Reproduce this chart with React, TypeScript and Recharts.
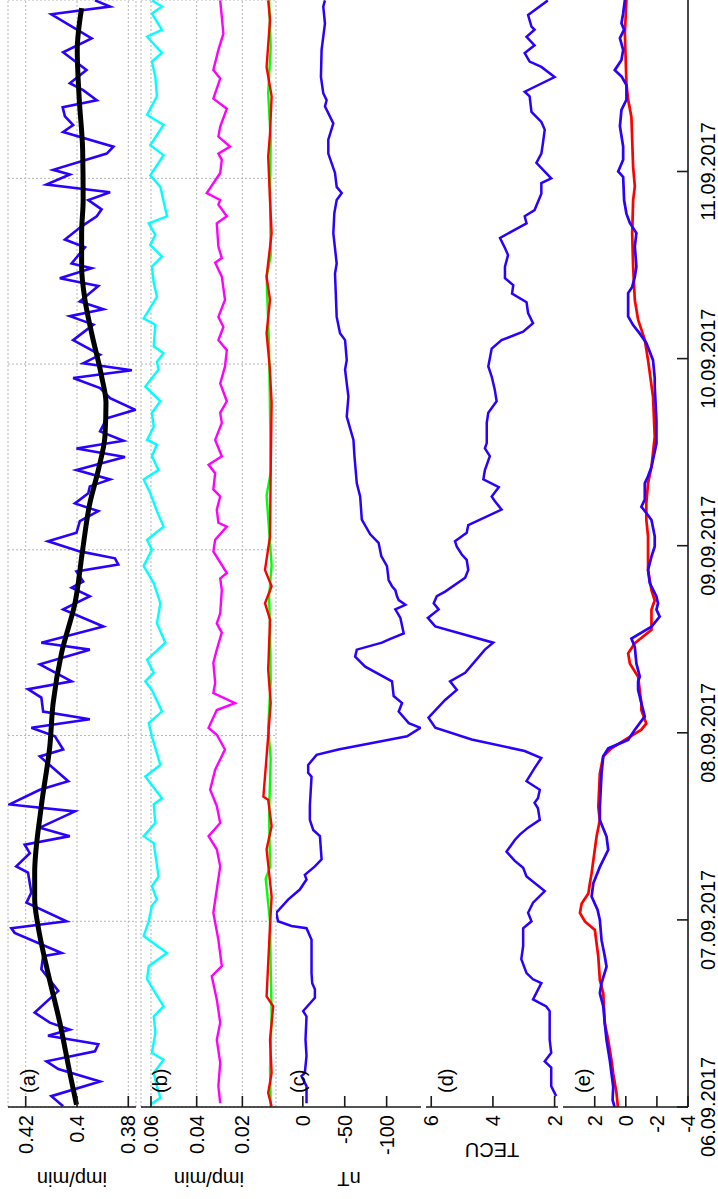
import React from 'react'
import { LineChart, Line, XAxis, YAxis, CartesianGrid } from 'recharts'

const FONT = '"Liberation Sans", Arial, sans-serif'

// hours since 06.09.2017 00 UT
const dayTicks = [0, 24, 48, 72, 96, 120]
const dayLabels = ['06.09.2017', '07.09.2017', '08.09.2017', '09.09.2017', '10.09.2017', '11.09.2017']

// (a) neutron monitor, imp/min
const neutron: [number, number][] = [
  [0.1, 0.4054], [1.4, 0.41], [3.3, 0.391], [4.9, 0.4073], [5.9, 0.4119], [7.2, 0.393], [8.1, 0.3917],
  [9.2, 0.4113], [10.0, 0.4028], [10.9, 0.4106], [12.2, 0.4165], [15.0, 0.4073], [17.8, 0.4139],
  [19.5, 0.4132], [19.9, 0.406], [22.5, 0.4243], [23.1, 0.4256], [24.0, 0.4041], [26.4, 0.4197],
  [27.7, 0.4178], [30.3, 0.4191], [31.1, 0.4237], [32.8, 0.4184], [33.9, 0.4204], [35.0, 0.4028],
  [36.1, 0.4145], [38.2, 0.4008], [39.1, 0.4263], [41.0, 0.4145], [42.1, 0.4034], [45.3, 0.4145],
  [46.2, 0.4054], [47.9, 0.4086], [49.0, 0.4178], [50.1, 0.395], [51.1, 0.4132], [52.9, 0.4139],
  [54.0, 0.4191], [55.0, 0.4021], [57.2, 0.4145], [59.1, 0.395], [60.0, 0.4139], [62.1, 0.3897],
  [64.3, 0.4054], [66.0, 0.395], [67.1, 0.4021], [67.9, 0.3976], [69.2, 0.4002], [70.1, 0.3839],
  [70.9, 0.3852], [71.8, 0.3989], [73.1, 0.4113], [74.2, 0.4002], [75.7, 0.3989], [77.0, 0.3917],
  [78.0, 0.4008], [79.3, 0.3956], [80.2, 0.395], [81.1, 0.3871], [82.3, 0.4002], [84.0, 0.3813],
  [85.1, 0.4002], [86.1, 0.3819], [87.3, 0.391], [89.0, 0.3884], [90.1, 0.3773], [91.6, 0.3871],
  [92.9, 0.391], [94.2, 0.4015], [95.2, 0.3786], [96.1, 0.3976], [97.2, 0.391], [99.1, 0.4015],
  [101.1, 0.3936], [102.2, 0.4028], [103.1, 0.3897], [104.1, 0.3989], [106.1, 0.3917], [107.1, 0.4067],
  [108.4, 0.3943], [109.0, 0.4021], [111.1, 0.3969], [112.1, 0.4047], [113.8, 0.3982], [115.1, 0.3923],
  [116.0, 0.3904], [117.2, 0.3956], [118.2, 0.3871], [119.2, 0.4119], [120.5, 0.4028], [121.1, 0.4093],
  [123.2, 0.3884], [124.1, 0.3858], [126.0, 0.4054], [126.9, 0.4015], [128.0, 0.4047], [129.2, 0.4056],
  [130.1, 0.3923], [131.4, 0.3976], [132.3, 0.4028], [134.0, 0.3963], [136.3, 0.4054], [138.1, 0.3943],
  [141.2, 0.41], [142.2, 0.3871], [143.0, 0.393]
]

const neutronTrend: [number, number][] = [
  [0.3, 0.4002], [4.4, 0.4028], [10.9, 0.4067], [17.3, 0.4113], [23.4, 0.4152], [26.8, 0.4165],
  [30.2, 0.4165], [38.9, 0.4139], [46.6, 0.4106], [52.2, 0.4093], [58.7, 0.406], [65.1, 0.4008],
  [72.0, 0.3978], [78.0, 0.395], [82.3, 0.3917], [86.7, 0.3891], [91.0, 0.3887], [94.4, 0.3904],
  [100.0, 0.3943], [104.3, 0.3969], [108.6, 0.3982], [112.9, 0.3982], [117.2, 0.3976], [123.7, 0.3978],
  [130.1, 0.3991], [136.6, 0.3999], [142.0, 0.3982]
]

// (b) four channels, imp/min
const cyanB: [number, number][] = [
  [0.3, 0.0603], [1.2, 0.0559], [2.7, 0.0574], [4.4, 0.0588], [6.1, 0.0545], [7.0, 0.0596], [9.6, 0.0581],
  [11.7, 0.0588], [13.0, 0.0545], [16.5, 0.0617], [18.2, 0.061], [19.9, 0.053], [22.1, 0.0632], [24.0, 0.061],
  [26.0, 0.0596], [26.8, 0.0574], [28.5, 0.0596], [29.8, 0.0567], [34.1, 0.0588], [35.0, 0.0632],
  [36.7, 0.0581], [39.1, 0.0588], [39.9, 0.0552], [42.7, 0.0625], [44.2, 0.0559], [47.9, 0.0596],
  [49.6, 0.061], [51.1, 0.0552], [53.9, 0.0596], [55.0, 0.0625], [56.1, 0.0588], [57.8, 0.0617],
  [60.0, 0.0537], [62.5, 0.0574], [65.1, 0.0559], [67.7, 0.0588], [69.9, 0.0632], [72.0, 0.0596],
  [73.3, 0.0617], [75.0, 0.0545], [77.0, 0.0574], [79.3, 0.0603], [81.1, 0.0632], [82.3, 0.0567],
  [84.1, 0.0596], [85.6, 0.0574], [86.2, 0.0617], [87.9, 0.0588], [89.7, 0.0596], [91.2, 0.0559],
  [93.1, 0.0625], [95.3, 0.0567], [96.3, 0.0574], [97.4, 0.0545], [98.3, 0.0588], [101.1, 0.0581],
  [101.9, 0.0632], [104.7, 0.0574], [106.5, 0.0588], [108.6, 0.0596], [109.9, 0.0552], [111.4, 0.0603],
  [112.7, 0.0581], [114.2, 0.061], [115.1, 0.053], [118.9, 0.0559], [120.4, 0.0603], [123.0, 0.0545],
  [124.3, 0.0603], [126.9, 0.0545], [128.2, 0.0617], [130.6, 0.0574], [133.1, 0.0581], [135.1, 0.0596],
  [136.2, 0.0552], [138.3, 0.0617], [139.2, 0.0552], [141.3, 0.0596], [142.2, 0.0552], [143.0, 0.0596]
]

const magentaB: [number, number][] = [
  [0.5, 0.0297], [2.7, 0.0305], [5.7, 0.0297], [8.7, 0.0312], [10.9, 0.0297], [13.9, 0.0312], [16.9, 0.0334],
  [18.2, 0.029], [21.6, 0.0305], [25.1, 0.0327], [28.1, 0.0312], [31.1, 0.0297], [33.3, 0.0312],
  [35.0, 0.0348], [36.7, 0.0297], [38.9, 0.0312], [41.0, 0.0341], [43.6, 0.0319], [46.2, 0.0276],
  [48.1, 0.0312], [49.0, 0.0348], [51.3, 0.0312], [52.2, 0.0232], [53.5, 0.0327], [54.8, 0.0319],
  [57.4, 0.0327], [59.1, 0.0312], [61.3, 0.029], [62.5, 0.0312], [63.8, 0.0297], [66.8, 0.029],
  [68.3, 0.0297], [69.0, 0.0268], [71.8, 0.0327], [73.3, 0.0319], [75.0, 0.0268], [75.5, 0.0305],
  [77.2, 0.0312], [78.9, 0.0297], [79.8, 0.0327], [81.9, 0.0319], [83.0, 0.0348], [84.1, 0.029],
  [86.2, 0.0319], [88.4, 0.029], [89.7, 0.0297], [91.2, 0.0268], [93.5, 0.0297], [95.7, 0.0276],
  [97.8, 0.0268], [99.1, 0.0305], [100.8, 0.0283], [102.1, 0.0305], [104.3, 0.0276], [107.3, 0.029],
  [109.1, 0.0319], [109.7, 0.029], [111.2, 0.0305], [114.2, 0.0312], [115.1, 0.0268], [116.6, 0.0305],
  [117.2, 0.0297], [118.1, 0.0356], [120.7, 0.0297], [122.4, 0.029], [123.2, 0.0305], [124.1, 0.0254],
  [125.4, 0.0305], [126.7, 0.0297], [129.0, 0.0268], [130.3, 0.0327], [132.9, 0.0297], [134.0, 0.0327],
  [136.6, 0.0305], [138.7, 0.0283], [143.0, 0.0297]
]

const greenB: [number, number][] = [
  [0, 0.0076], [5, 0.0079], [12, 0.0072], [18, 0.0076], [24, 0.0079], [29.5, 0.0098], [31, 0.0079],
  [38, 0.0083], [45, 0.0076], [49, 0.0087], [55, 0.0076], [62, 0.0079], [66, 0.0083], [70, 0.0072],
  [79, 0.0094], [82, 0.0076], [90, 0.0079], [98, 0.0083], [107.3, 0.0094], [110, 0.0076], [118, 0.0079],
  [125, 0.0076], [131, 0.0087], [137, 0.0076], [143, 0.0083]
]

const redB: [number, number][] = [
  [0.1, 0.0072], [1.8, 0.0087], [4.4, 0.0072], [8.7, 0.0079], [13.0, 0.0065], [14.3, 0.0094], [23.4, 0.0079],
  [27.2, 0.0072], [33.3, 0.0094], [36.3, 0.0072], [39.7, 0.0087], [40.1, 0.0108], [47.9, 0.0087],
  [52.2, 0.0076], [56.5, 0.0087], [63.0, 0.0079], [65.1, 0.0101], [67.3, 0.0072], [69.4, 0.0101],
  [73.7, 0.0079], [82.3, 0.0076], [91.0, 0.0072], [95.5, 0.008], [100.0, 0.0094], [104.3, 0.0079],
  [107.3, 0.0094], [112.9, 0.0072], [117.2, 0.0079], [122.8, 0.0087], [125.8, 0.0079], [130.6, 0.0072],
  [134.4, 0.0094], [140.5, 0.0079], [143.0, 0.0087]
]

// (c) Dst, nT
const dst: [number, number][] = [
  [0.5, -4.4], [2.7, -4.4], [4.0, 1.6], [4.4, -2.4], [6.6, -4.4], [8.7, -3.2], [11.7, -4.4], [12.4, -0.4],
  [14.1, -14.4], [15.2, -14.4], [16.0, -11.2], [17.3, -10.4], [21.6, -10.4], [23.1, -4.4], [23.4, 13.6],
  [24.0, 29.6], [25.1, 31.6], [26.8, 17.6], [28.1, 3.6], [29.4, -4.4], [30.0, -2.4], [31.1, -14.4],
  [32.0, -22.4], [35.0, -20.4], [35.8, -12.4], [37.1, -8.4], [38.9, -8.4], [42.7, -10.4], [43.2, -6.4],
  [44.2, -6.4], [45.5, -16.4], [46.2, -42.4], [47.5, -104.4], [47.9, -124.4], [49.0, -140.4],
  [49.6, -126.4], [51.1, -114.4], [52.2, -118.4], [53.1, -108.4], [55.0, -106.4], [56.9, -74.4],
  [58.2, -62.4], [59.1, -64.4], [60.0, -94.4], [60.5, -104.4], [61.2, -120.4], [63.2, -116.4],
  [64.3, -110.4], [64.9, -122.4], [65.5, -114.4], [66.0, -112.4], [66.8, -110.4], [67.3, -106.4],
  [68.1, -102.4], [69.9, -100.4], [71.2, -93.6], [72.9, -90.4], [74.0, -80.4], [75.9, -70.4],
  [78.9, -68.4], [80.6, -64.4], [84.1, -61.6], [86.2, -60.4], [89.2, -52.4], [91.8, -54.4], [93.5, -52.4],
  [95.3, -50.4], [96.5, -52.4], [99.1, -50.4], [100.0, -44.4], [102.1, -40.4], [107.7, -38.4],
  [109.0, -40.4], [112.9, -36.4], [115.5, -37.6], [117.2, -40.4], [118.1, -46.4], [118.9, -40.4],
  [120.7, -38.4], [123.2, -30.4], [125.0, -30.4], [127.1, -36.4], [129.3, -26.4], [130.1, -28.4],
  [131.0, -24.4], [133.1, -21.6], [136.6, -22.4], [140.0, -26.4], [142.2, -24.4], [143.0, -26.4]
]

// (d) TEC, TECU
const tec: [number, number][] = [
  [1.4, 1.95], [2.7, 2.11], [5.1, 2.11], [5.9, 2.32], [7.0, 2.11], [8.7, 2.16], [12.4, 2.16], [13.0, 2.27],
  [13.9, 2.7], [16.0, 2.43], [16.5, 2.7], [17.3, 2.91], [19.1, 3.08], [20.8, 3.02], [23.1, 3.02],
  [24.0, 2.75], [25.1, 2.86], [26.4, 2.7], [27.9, 2.32], [29.8, 2.91], [30.9, 3.02], [31.8, 3.29],
  [33.0, 3.56], [34.5, 3.29], [35.2, 3.13], [36.1, 2.86], [37.1, 2.48], [38.6, 2.54], [39.3, 2.65],
  [39.9, 2.54], [41.0, 2.48], [42.1, 2.91], [43.8, 2.65], [45.1, 2.43], [46.0, 2.97], [47.5, 4.69],
  [49.0, 5.87], [50.3, 6.09], [52.6, 5.55], [53.9, 5.17], [55.0, 5.39], [56.1, 4.9], [59.1, 4.26],
  [60.0, 3.99], [62.1, 5.87], [63.2, 6.11], [64.3, 5.76], [65.1, 5.92], [66.0, 5.82], [66.6, 5.55],
  [68.4, 4.9], [69.4, 4.8], [70.7, 4.85], [71.4, 5.01], [72.4, 5.17], [73.1, 5.23], [74.2, 4.85],
  [75.2, 4.8], [77.2, 3.72], [78.3, 3.94], [78.9, 4.04], [80.1, 3.81], [81.1, 4.31], [82.3, 4.26],
  [84.1, 4.1], [85.1, 4.26], [85.8, 4.2], [88.4, 4.2], [89.7, 4.15], [91.2, 3.88], [92.7, 3.94],
  [94.4, 4.04], [95.7, 4.15], [98.0, 4.04], [99.1, 3.72], [100.2, 3.02], [101.3, 2.7], [102.6, 2.86],
  [104.0, 2.91], [105.1, 3.38], [106.2, 3.34], [107.1, 3.61], [108.6, 3.61], [110.1, 3.51], [111.0, 3.61],
  [112.3, 3.77], [114.2, 2.91], [115.1, 2.97], [115.9, 2.65], [118.0, 2.43], [119.4, 2.43], [120.0, 2.11],
  [122.0, 2.59], [123.2, 2.43], [124.5, 2.38], [126.3, 2.32], [127.3, 2.43], [128.6, 2.75], [130.6, 2.81],
  [131.2, 2.97], [133.1, 2.0], [134.4, 2.43], [135.1, 2.81], [136.2, 2.97], [137.2, 2.65], [138.3, 2.91],
  [139.2, 2.65], [139.6, 2.75], [141.1, 2.86], [143.0, 2.22]
]

// (e) two curves
const blueE: [number, number][] = [
  [0.0, 0.72], [0.9, 0.85], [2.6, 0.81], [4.3, 0.92], [6.0, 1.03], [8.6, 1.24], [10.7, 1.35], [12.9, 1.45],
  [14.6, 1.67], [15.9, 1.56], [18.0, 1.24], [19.3, 1.35], [21.4, 1.56], [24.0, 1.67], [25.3, 1.82],
  [27.0, 2.2], [28.7, 2.09], [30.8, 1.67], [33.0, 1.13], [34.7, 1.24], [36.8, 1.67], [38.5, 1.67],
  [42.8, 1.56], [45.0, 1.45], [46.0, 1.13], [47.1, -0.15], [48.4, -0.58], [50.1, -1.22], [51.8, -1.0],
  [53.5, -0.79], [54.6, -0.79], [55.2, -0.9], [56.9, -0.68], [59.0, -0.58], [60.1, -0.36], [61.6, -1.65],
  [62.9, -2.18], [63.8, -1.97], [64.6, -2.07], [65.5, -1.97], [67.2, -1.54], [68.9, -1.43], [70.6, -1.65],
  [71.9, -1.86], [73.2, -1.86], [75.3, -1.65], [76.2, -1.32], [77.0, -1.0], [77.9, -1.22], [80.0, -1.22],
  [80.9, -1.43], [82.1, -1.65], [85.1, -1.97], [88.1, -1.97], [92.4, -1.86], [93.5, -1.86], [95.8, -1.75],
  [98.0, -1.32], [99.2, -0.9], [100.3, -0.47], [101.4, -0.15], [104.4, -0.15], [105.2, -0.41],
  [106.5, -0.58], [107.8, -0.68], [110.4, -0.58], [112.1, -0.68], [113.4, -0.26], [114.6, -0.04],
  [116.3, 0.11], [119.3, 0.17], [120.0, 0.49], [121.5, 0.17], [123.2, 0.17], [125.8, 0.38], [127.9, 0.28],
  [129.2, -0.04], [131.1, -0.04], [132.2, 0.28], [133.0, 0.71], [134.3, 0.28], [135.6, 0.17], [137.1, 0.38],
  [138.2, 0.11], [139.0, 0.28], [140.3, 0.17], [142.0, 0.06]
]

const redE: [number, number][] = [
  [0.0, 0.51], [1.8, 0.6], [4.3, 0.81], [6.0, 0.92], [8.6, 1.13], [10.7, 1.35], [14.6, 1.45], [16.3, 1.67],
  [19.3, 1.77], [22.7, 1.99], [23.8, 2.63], [24.9, 2.95], [26.1, 2.84], [27.4, 2.41], [28.7, 2.31],
  [30.0, 2.2], [34.7, 1.88], [36.8, 1.67], [38.5, 1.77], [42.8, 1.67], [45.0, 1.45], [46.0, 0.92],
  [47.1, 0.06], [48.4, -1.0], [49.2, -1.32], [50.9, -1.0], [51.8, -1.0], [55.2, -0.79], [56.9, -0.26],
  [58.2, -0.15], [59.5, -0.58], [61.2, -1.65], [63.8, -1.65], [65.0, -1.86], [66.3, -1.65], [68.9, -1.43],
  [73.2, -1.43], [75.3, -1.32], [77.4, -1.32], [80.0, -1.43], [82.1, -1.65], [86.0, -1.86], [91.1, -1.75],
  [95.8, -1.43], [98.4, -1.22], [101.0, -0.79], [103.5, -0.58], [107.8, -0.47], [112.1, -0.41],
  [116.3, -0.47], [118.1, -0.58], [120.6, -0.47], [127.0, -0.36], [129.2, -0.15], [131.3, -0.04],
  [137.7, 0.06], [142.0, -0.04]
]

type Series = { data: [number, number][]; color: string; width: number; smooth?: boolean }

const frame = { stroke: '#1a1a1a', strokeWidth: 1.6 }
const tickFont = { fontSize: 20, fill: '#000', fontFamily: FONT }
const blank = () => ''
const PAD = 14

function Panel(props: {
  top: number
  bottom: number
  end: number
  yDomain: [number, number]
  yTicks: number[]
  fmt: (v: number) => string
  series: Series[]
  grid?: boolean
  dates?: boolean
}) {
  const { top, bottom, end, yDomain, yTicks, fmt, series, grid, dates } = props
  const axisH = dates ? 40 : 0
  const h = bottom - top + 2 * PAD + axisH
  return (
    <div style={{ position: 'absolute', left: 0, top: top - PAD }}>
      <LineChart width={1201} height={h} margin={{ top: PAD, right: 2, bottom: PAD, left: 0 }}>
        {grid && <CartesianGrid strokeDasharray='2 2' stroke='#b5b5b5' strokeWidth={1} />}
        <XAxis
          dataKey='h'
          type='number'
          domain={[0, end]}
          ticks={dayTicks}
          allowDataOverflow
          interval={0}
          height={axisH}
          tickSize={-11}
          tickMargin={24}
          axisLine={frame}
          tickLine={frame}
          tick={tickFont}
          tickFormatter={dates ? (v: number) => dayLabels[dayTicks.indexOf(v)] : blank}
        />
        <XAxis
          xAxisId='top'
          orientation='top'
          dataKey='h'
          type='number'
          domain={[0, end]}
          ticks={dayTicks}
          allowDataOverflow
          interval={0}
          height={0}
          tickSize={-11}
          axisLine={frame}
          tickLine={frame}
          tickFormatter={blank}
        />
        <YAxis
          type='number'
          domain={yDomain}
          ticks={yTicks}
          allowDataOverflow
          interval={0}
          width={92}
          tickSize={-11}
          tickMargin={19}
          axisLine={frame}
          tickLine={frame}
          tick={tickFont}
          tickFormatter={fmt}
        />
        <YAxis
          yAxisId='right'
          orientation='right'
          type='number'
          domain={yDomain}
          ticks={yTicks}
          allowDataOverflow
          interval={0}
          width={0}
          tickSize={-11}
          axisLine={frame}
          tickLine={frame}
          tickFormatter={blank}
        />
        {series.map((s, i) => (
          <Line
            key={i}
            data={s.data.map(([hr, v]) => ({ h: hr, v }))}
            dataKey='v'
            type={s.smooth ? 'monotone' : 'linear'}
            stroke={s.color}
            strokeWidth={s.width}
            dot={false}
            isAnimationActive={false}
          />
        ))}
      </LineChart>
    </div>
  )
}

const num = (v: number) => String(Number(v.toFixed(2)))

function Tag({ text, top }: { text: string; top: number }) {
  return (
    <div style={{ position: 'absolute', left: 106, top, fontSize: 20, lineHeight: '20px', whiteSpace: 'nowrap' }}>
      {text}
    </div>
  )
}

function Title({ text, cx, cy }: { text: string; cx: number; cy: number }) {
  return (
    <div
      style={{
        position: 'absolute',
        left: cx,
        top: cy,
        fontSize: 20,
        lineHeight: '20px',
        whiteSpace: 'nowrap',
        transform: 'translate(-50%, -50%) rotate(-90deg)'
      }}
    >
      {text}
    </div>
  )
}

export default function App() {
  const blue = '#2b00ff'
  return (
    <div
      style={{
        position: 'absolute',
        left: 0,
        top: 0,
        width: 1199,
        height: 718,
        background: '#fff',
        fontFamily: FONT,
        color: '#000',
        transformOrigin: '0 0',
        transform: 'translateY(1199px) rotate(-90deg)'
      }}
    >
      <Panel
        top={8}
        bottom={136}
        end={143.05}
        yDomain={[0.377, 0.4269]}
        yTicks={[0.38, 0.4, 0.42]}
        fmt={num}
        grid
        series={[
          { data: neutron, color: blue, width: 2.6 },
          { data: neutronTrend, color: '#000', width: 5, smooth: true }
        ]}
      />
      <Panel
        top={141}
        bottom={276}
        end={143.05}
        yDomain={[0.00528, 0.06437]}
        yTicks={[0.02, 0.04, 0.06]}
        fmt={num}
        grid
        series={[
          { data: cyanB, color: '#00ffff', width: 2.4 },
          { data: magentaB, color: '#ff00ff', width: 2.4 },
          { data: greenB, color: '#00ff00', width: 2.4 },
          { data: redB, color: '#ff0000', width: 2.4 }
        ]}
      />
      <Panel
        top={276}
        bottom={421}
        end={143.05}
        yDomain={[-141, 32]}
        yTicks={[-100, -50, 0]}
        fmt={num}
        series={[{ data: dst, color: blue, width: 2.5 }]}
      />
      <Panel
        top={426}
        bottom={558}
        end={143.05}
        yDomain={[1.89, 6.17]}
        yTicks={[2, 4, 6]}
        fmt={num}
        series={[{ data: tec, color: blue, width: 2.5 }]}
      />
      <Panel
        top={563}
        bottom={688}
        end={142}
        yDomain={[-4, 4.04]}
        yTicks={[-4, -2, 0, 2]}
        fmt={num}
        dates
        series={[
          { data: redE, color: '#ff0000', width: 2.7 },
          { data: blueE, color: blue, width: 2.7 }
        ]}
      />
      <Tag text='(a)' top={17.7} />
      <Tag text='(b)' top={149.7} />
      <Tag text='(c)' top={287.7} />
      <Tag text='(d)' top={435.7} />
      <Tag text='(e)' top={572.7} />
      <Title text='imp/min' cx={20} cy={72} />
      <Title text='imp/min' cx={20} cy={208.5} />
      <Title text='nT' cx={19.5} cy={348.5} />
      <Title text='TECU' cx={49} cy={492} />
    </div>
  )
}
